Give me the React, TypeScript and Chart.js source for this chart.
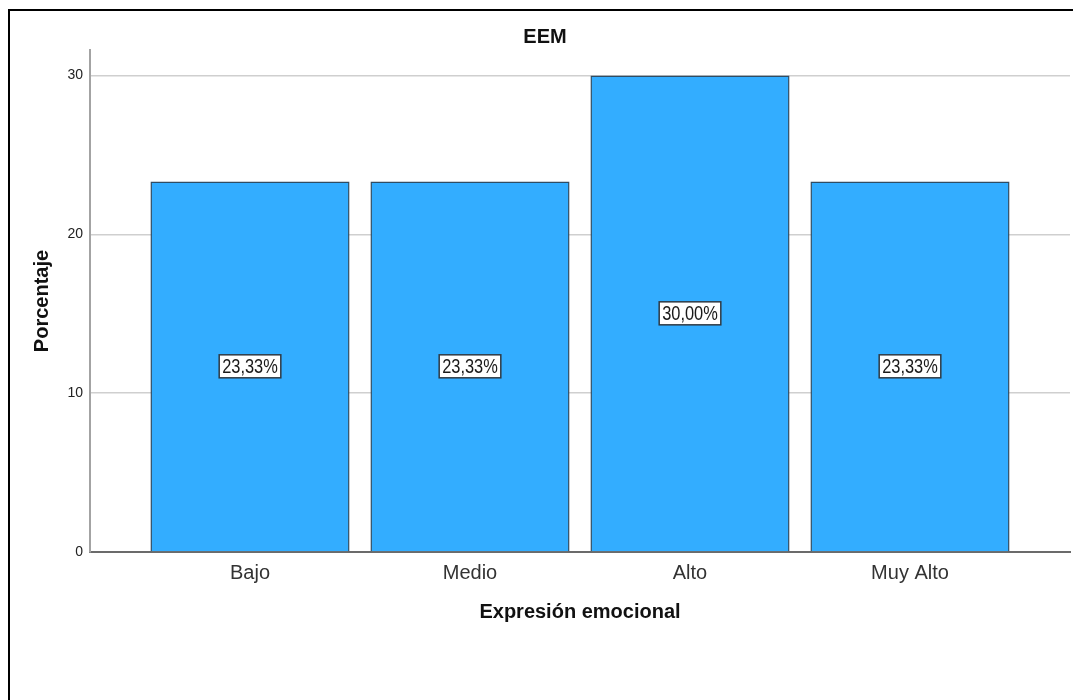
import React, { useEffect, useRef } from "react";
import { Chart, registerables } from "chart.js";

Chart.register(...registerables);

// Frequency chart for "Expresión emocional"
const CHART_TITLE = "EEM";
const X_TITLE = "Expresión emocional";
const Y_TITLE = "Porcentaje";
const CATEGORIES = ["Bajo", "Medio", "Alto", "Muy Alto"];
const PERCENTAGES = [23.33, 23.33, 30.0, 23.33];
const Y_TICKS = [0, 10, 20, 30];

const FONT = 'Arial, "Liberation Sans", Helvetica, sans-serif';
const BAR_FILL = "#33adff";
const BAR_EDGE = "#2f4c63";
// value labels use a condensed face: regular Arial squeezed horizontally
const LABEL_SQUEEZE = 0.82;

const formatPct = (v: number) => v.toFixed(2).replace(".", ",") + "%";

// Draws the value boxes in the middle of each bar
const barValueBoxes = {
  id: "barValueBoxes",
  afterDatasetsDraw(chart: any) {
    const ctx = chart.ctx as CanvasRenderingContext2D;
    const meta = chart.getDatasetMeta(0);
    const data = chart.data.datasets[0].data as { x: number; y: number }[];
    ctx.save();
    ctx.font = `20px ${FONT}`;
    ctx.textAlign = "center";
    ctx.textBaseline = "middle";
    meta.data.forEach((bar: any, i: number) => {
      const value = data[i].y;
      const text = formatPct(value);
      const cx = bar.x;
      const cy = (bar.y + bar.base) / 2;
      const w = ctx.measureText(text).width * LABEL_SQUEEZE + 6;
      const h = 23;
      ctx.fillStyle = "#ffffff";
      ctx.fillRect(cx - w / 2, cy - h / 2, w, h);
      ctx.lineWidth = 1.5;
      ctx.strokeStyle = "#2f3a44";
      ctx.strokeRect(cx - w / 2, cy - h / 2, w, h);
      ctx.save();
      ctx.translate(cx, cy + 1);
      ctx.scale(LABEL_SQUEEZE, 1);
      ctx.fillStyle = "#1a1a1a";
      ctx.fillText(text, 0, 0);
      ctx.restore();
    });
    ctx.restore();
  },
};

function BarChart() {
  const canvasRef = useRef<HTMLCanvasElement | null>(null);

  useEffect(() => {
    if (!canvasRef.current) return;
    const chart = new Chart(canvasRef.current, {
      type: "bar",
      data: {
        datasets: [
          {
            data: PERCENTAGES.map((v, i) => ({ x: i, y: v })),
            backgroundColor: BAR_FILL,
            borderColor: BAR_EDGE,
            borderWidth: 1.5,
            barPercentage: 0.905,
            categoryPercentage: 1,
          },
        ],
      },
      options: {
        responsive: false,
        animation: false,
        devicePixelRatio: 1,
        layout: { padding: { left: 20, right: 20, top: 0, bottom: 68 } },
        plugins: {
          legend: { display: false },
          tooltip: { enabled: false },
          title: {
            display: true,
            text: CHART_TITLE,
            color: "#111111",
            font: { family: FONT, size: 20, weight: "bold", lineHeight: 1.2 },
            padding: { top: 14, bottom: 1 },
          },
        },
        scales: {
          x: {
            type: "linear",
            min: -0.7273,
            max: CATEGORIES.length - 1 + 0.7273,
            offset: false,
            afterBuildTicks: (axis: any) => {
              axis.ticks = CATEGORIES.map((_, i) => ({ value: i }));
            },
            afterFit: (axis: any) => {
              axis.height = 80;
            },
            grid: { display: false, drawTicks: false },
            border: { display: true, color: "#6b6b6b", width: 2 },
            ticks: {
              autoSkip: false,
              maxRotation: 0,
              padding: 9,
              color: "#333333",
              font: { family: FONT, size: 20 },
              callback: (value: any) => CATEGORIES[value as number] ?? "",
            },
            title: {
              display: true,
              text: X_TITLE,
              color: "#111111",
              font: { family: FONT, size: 20, weight: "bold", lineHeight: 1.2 },
              padding: { top: 0, bottom: 8 },
            },
          },
          y: {
            type: "linear",
            min: 0,
            max: 31.6,
            afterBuildTicks: (axis: any) => {
              axis.ticks = Y_TICKS.map((v) => ({ value: v }));
            },
            afterFit: (axis: any) => {
              axis.width = 70;
            },
            grid: {
              drawTicks: false,
              color: (c: any) => (c.tick && c.tick.value === 0 ? "rgba(0,0,0,0)" : "#cfcfcf"),
              lineWidth: 1.5,
            },
            border: { display: true, color: "#a3a3a3", width: 2 },
            ticks: {
              padding: 7,
              color: "#222222",
              font: { family: FONT, size: 14 },
            },
            title: {
              display: true,
              text: Y_TITLE,
              color: "#111111",
              font: { family: FONT, size: 20, weight: "bold", lineHeight: 1.2 },
              padding: { top: 10, bottom: 0 },
            },
          },
        },
      },
      plugins: [barValueBoxes],
    } as any);
    return () => chart.destroy();
  }, []);

  return (
    <canvas
      ref={canvasRef}
      width={1090}
      height={689}
      style={{ position: "absolute", left: 0, top: 11, width: 1090, height: 689 }}
    />
  );
}

export default function App() {
  return (
    <div
      style={{
        position: "fixed",
        left: 0,
        top: 0,
        width: 1073,
        height: 700,
        overflow: "hidden",
        background: "#ffffff",
      }}
    >
      <div
        style={{
          position: "absolute",
          left: 8,
          top: 9,
          width: 1076,
          height: 760,
          borderTop: "2px solid #000",
          borderLeft: "2px solid #000",
          boxSizing: "border-box",
        }}
      />
      <BarChart />
    </div>
  );
}
